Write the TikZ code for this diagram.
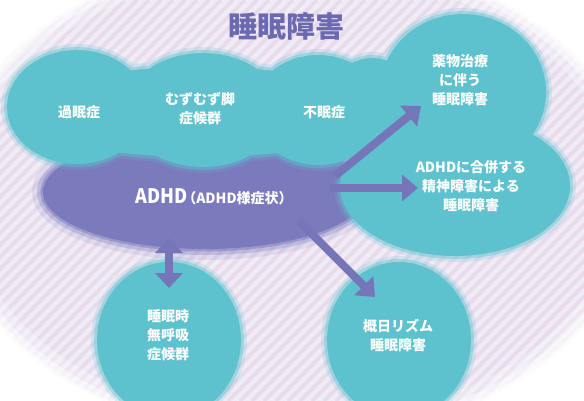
\documentclass[tikz,border=0pt]{standalone}
\usepackage{fontspec}
\setmainfont{Noto Sans CJK JP}
\newfontfamily\jpcond{Noto Sans CJK JP}[FakeStretch=0.9]
\usetikzlibrary{arrows.meta}
\definecolor{tealc}{HTML}{5EC2CE}
\definecolor{blobc}{HTML}{7A7ABC}
\definecolor{arrowc}{HTML}{7575B8}
\definecolor{titlec}{HTML}{6B69B0}
\definecolor{bgbase}{HTML}{EFECF6}
\definecolor{stripec}{HTML}{E9DAEC}
\newcommand\bgpath[1]{\path[#1] (292,196) ellipse [x radius=345pt, y radius=245pt];}
\newcommand\blobpath[1]{\path[#1] (205,192) ellipse [x radius=162pt, y radius=57pt];}
\newcommand\tealpath[1]{\path[#1]
  (77,107) ellipse [x radius=70pt, y radius=57pt]
  (203,110) ellipse [x radius=78pt, y radius=57pt]
  (318,110) ellipse [x radius=65pt, y radius=55pt]
  (200,112) ellipse [x radius=185pt, y radius=45pt]
  (372,96) ellipse [x radius=40pt, y radius=38pt]
  (463,92) ellipse [x radius=83pt, y radius=78pt]
  (455,186) ellipse [x radius=115pt, y radius=70pt]
  (169,340) ellipse [x radius=72pt, y radius=78pt]
  (399,340) ellipse [x radius=72pt, y radius=78pt];}
\tikzset{
  lbl/.style={text=white, font=\bfseries\fontsize{14pt}{19pt}\selectfont, align=center, inner sep=0pt},
  bigarrow/.style={draw=arrowc, line width=8pt, -{Triangle[width=26pt,length=16pt]}},
  dblarrow/.style={draw=arrowc, line width=8pt, {Triangle[width=27pt,length=15pt]}-{Triangle[width=27pt,length=15pt]}},
  stripe/.style={draw=stripec, line width=3.6pt}
}
\begin{document}
\begin{tikzpicture}[x=1pt,y=-1pt]
\useasboundingbox (0,0) rectangle (584,401);
\clip (0,0) rectangle (584,401);
\fill[white] (0,0) rectangle (584,401);
% striped background blob
\bgpath{fill=bgbase}
\begin{scope}
  \clip (292,196) ellipse [x radius=345pt, y radius=245pt];
  \foreach \i in {-420,-408,...,600} \draw[stripe] (\i,401) -- (\i+401,0);
\end{scope}
\bgpath{draw=white, opacity=.3, line width=36pt}
\bgpath{draw=white, opacity=.45, line width=18pt}
\bgpath{draw=white, opacity=.6, line width=6pt}
% purple ADHD blob
\blobpath{draw=blobc, opacity=.15, line width=22pt}
\blobpath{draw=blobc, opacity=.3, line width=12pt}
\blobpath{draw=blobc, opacity=.5, line width=5pt}
\blobpath{fill=blobc}
% teal clouds
\tealpath{draw=tealc, opacity=.2, line width=12pt}
\tealpath{draw=tealc, opacity=.4, line width=6pt}
\tealpath{fill=tealc}
% arrows
\coordinate (a1s) at (335,176);
\coordinate (a1e) at (421,106);
\coordinate (a2s) at (330,188);
\coordinate (a2e) at (418,188);
\coordinate (a3s) at (169,238);
\coordinate (a3e) at (169,288);
\coordinate (a4s) at (298,220);
\coordinate (a4e) at (375,297);
\draw[bigarrow] (a1s) -- (a1e);
\draw[bigarrow] (a2s) -- (a2e);
\draw[dblarrow] (a3s) -- (a3e);
\draw[bigarrow] (a4s) -- (a4e);
% texts
\node[text=titlec, font=\bfseries\fontsize{29pt}{30pt}\selectfont, inner sep=0pt] (title) at (286,26) {睡眠障害};
\node[lbl] (kamin) at (79,112) {過眠症};
\node[lbl] (rls) at (200,108.5) {むずむず脚\\症候群};
\node[lbl] (fumin) at (324,112) {不眠症};
\node[lbl] (yakubutsu) at (460,80.5) {薬物治療\\に伴う\\睡眠障害};
\node[lbl] (gappei) at (471,186) {ADHDに合併する\\精神障害による\\睡眠障害};
\node[lbl] (mukokyu) at (168,335) {睡眠時\\無呼吸\\症候群};
\node[lbl] (gaijitsu) at (398,335.5) {概日リズム\\睡眠障害};
\node[text=white, font=\bfseries, inner sep=0pt, anchor=base west] (adhd) at (135,204)
  {{\jpcond\fontsize{20pt}{22pt}\selectfont ADHD}\kern-5pt{\fontsize{14pt}{16pt}\selectfont （ADHD様症状）}};
\end{tikzpicture}
\end{document}
